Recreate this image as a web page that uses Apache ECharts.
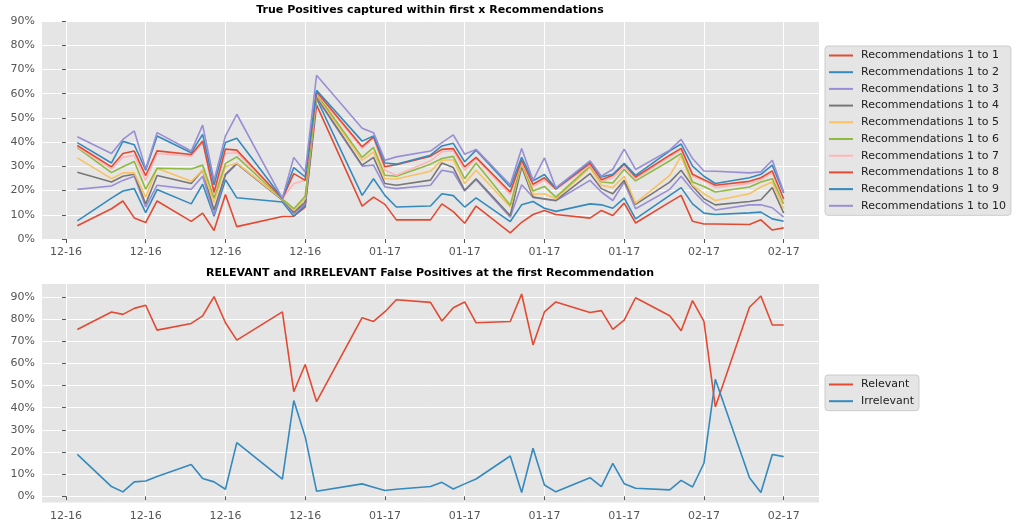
<!DOCTYPE html>
<html>
<head>
<meta charset="utf-8">
<script src="https://cdn.jsdelivr.net/npm/echarts@6/dist/echarts.min.js"></script>
<style>
  html, body { margin: 0; padding: 0; background: #ffffff; }
  #main { width: 1019px; height: 527px; }
</style>
</head>
<body>
<div id="main"></div>
<script>
// day offsets (weekly ticks at 0, 7, 14 ...)
var days = [1, 4, 5, 6, 7, 8, 11, 12, 13, 14, 15, 19, 20, 21, 22, 26, 27, 28, 29,
  32, 33, 34, 35, 36, 39, 40, 41, 42, 43, 46, 47, 48, 49, 50, 53, 54, 55, 56, 57,
  60, 61, 62, 63];
var tickDays = [0, 7, 14, 21, 28, 35, 42, 49, 56, 63];
var tickLabels = ["12-16", "12-16", "12-16", "12-16", "01-17", "01-17", "01-17", "01-17", "02-17", "02-17"];
var pctTicks = [0, 10, 20, 30, 40, 50, 60, 70, 80, 90];

// true positives within first x recommendations (%)
var rec1 = [5.5, 12.5, 15.7, 8.7, 6.8, 15.7, 7.3, 10.7, 3.5, 18.4, 5.1, 9.3, 9.4, 13.2, 55.4, 13.6, 17.3, 14.3, 7.9,
  7.9, 14.5, 11.3, 6.5, 13.6, 2.5, 6.9, 10.1, 11.8, 10.1, 8.6, 11.8, 9.7, 14.8, 6.6, 15.2, 18.0, 7.3, 6.2, 6.2,
  6.0, 7.9, 3.7, 4.6];
var rec2 = [7.5, 16.9, 19.8, 20.8, 10.9, 20.4, 14.5, 22.6, 9.4, 24.5, 17.0, 15.3, 9.4, 14.0, 58.0, 18.0, 24.9, 18.0, 13.2,
  13.6, 18.7, 17.9, 13.2, 17.0, 7.2, 14.1, 15.5, 12.7, 11.4, 14.5, 14.1, 12.7, 16.9, 8.3, 18.0, 21.2, 14.5, 10.7, 10.1,
  10.8, 11.1, 8.3, 7.3];
var rec3 = [20.5, 21.9, 24.2, 25.9, 13.2, 22.2, 20.5, 25.9, 10.1, 26.3, 31.0, 16.0, 10.4, 14.5, 58.2, 30.1, 30.5, 21.5, 20.8,
  22.2, 28.4, 27.5, 19.8, 24.5, 9.0, 22.4, 17.2, 16.4, 15.8, 24.2, 19.4, 15.9, 23.5, 12.5, 20.5, 25.9, 20.1, 15.2, 12.0,
  14.1, 14.1, 12.9, 9.0];
var rec4 = [27.6, 23.5, 25.9, 26.7, 14.5, 26.2, 22.9, 28.4, 12.0, 26.7, 31.2, 16.2, 11.1, 15.2, 58.5, 30.5, 33.7, 22.9, 22.2,
  24.3, 31.4, 29.5, 20.1, 24.9, 9.7, 29.8, 17.3, 16.6, 15.9, 27.0, 20.8, 18.7, 24.2, 14.3, 23.5, 28.4, 21.8, 16.6, 14.1,
  15.5, 16.2, 21.2, 10.7];
var rec5 = [33.5, 24.9, 27.3, 27.3, 17.3, 29.2, 23.8, 28.4, 15.2, 29.8, 31.3, 16.4, 11.8, 16.6, 59.5, 32.5, 36.0, 24.9, 24.8,
  28.0, 32.5, 32.7, 22.9, 28.4, 13.2, 31.2, 18.4, 18.7, 16.6, 29.5, 22.2, 21.2, 25.9, 14.8, 26.3, 34.2, 22.2, 18.7, 15.9,
  18.7, 21.5, 23.5, 12.5];
var rec6 = [37.7, 27.4, 29.8, 32.0, 20.6, 29.2, 28.9, 30.5, 16.9, 31.2, 33.9, 16.5, 12.5, 17.6, 60.0, 33.7, 37.8, 26.3, 25.9,
  30.9, 33.2, 34.1, 24.9, 31.4, 13.9, 31.9, 19.8, 21.7, 17.3, 30.1, 23.5, 23.1, 28.7, 24.0, 32.3, 35.3, 23.5, 21.7, 19.4,
  21.5, 23.5, 24.9, 14.5];
var rec7 = [38.1, 29.0, 33.7, 34.6, 24.2, 35.3, 34.2, 39.8, 18.4, 35.3, 35.6, 16.6, 22.9, 24.2, 60.3, 37.4, 41.6, 28.4, 26.3,
  32.3, 36.0, 36.4, 28.4, 33.2, 18.4, 31.9, 21.7, 24.2, 20.4, 30.5, 24.0, 25.3, 29.8, 24.9, 33.9, 36.7, 25.9, 24.0, 21.2,
  22.9, 24.5, 27.3, 15.9];
var rec8 = [38.6, 29.8, 35.3, 36.3, 26.2, 36.4, 34.9, 40.4, 19.3, 37.1, 36.7, 16.6, 27.0, 24.2, 60.8, 38.1, 42.2, 29.8, 30.7,
  34.2, 37.0, 37.3, 29.8, 33.7, 19.4, 32.5, 22.6, 25.3, 20.7, 31.2, 24.5, 26.3, 30.9, 25.6, 34.6, 37.4, 26.7, 24.5, 22.2,
  23.8, 25.3, 28.1, 16.6];
var rec9 = [39.8, 31.4, 40.3, 38.9, 28.4, 42.5, 35.6, 43.2, 22.4, 39.8, 41.6, 16.7, 29.5, 25.6, 61.4, 40.4, 42.5, 31.4, 30.9,
  34.6, 38.4, 39.5, 31.9, 36.7, 21.5, 33.7, 24.0, 26.6, 20.8, 31.9, 25.6, 26.7, 31.2, 26.3, 36.4, 39.2, 30.1, 25.9, 22.9,
  25.3, 26.7, 30.5, 19.0];
var rec10 = [42.2, 35.3, 41.1, 44.6, 28.9, 43.9, 36.3, 47.0, 24.2, 42.5, 51.5, 16.8, 33.7, 27.7, 67.6, 45.7, 43.9, 32.5, 33.9,
  36.3, 39.8, 43.0, 35.0, 37.0, 22.4, 37.4, 24.2, 33.5, 21.1, 32.3, 25.9, 28.8, 37.1, 28.7, 36.7, 41.1, 33.2, 28.1, 28.0,
  27.3, 27.7, 32.5, 19.4];

// false positives at the first recommendation (%)
var relevant = [75.3, 83.2, 82.1, 84.8, 86.2, 75.0, 78.0, 81.4, 90.1, 78.3, 70.5, 83.2, 47.2, 59.5, 42.7, 80.6, 78.9, 83.3, 88.7,
  87.5, 79.1, 85.1, 87.7, 78.3, 78.9, 91.3, 68.3, 83.2, 87.7, 82.9, 83.8, 75.3, 79.5, 89.6, 81.5, 74.7, 88.3, 78.9, 40.3,
  85.3, 90.4, 77.3, 77.3];
var irrelevant = [18.9, 4.4, 2.0, 6.5, 6.9, 8.9, 14.4, 8.0, 6.5, 3.2, 24.2, 7.7, 43.2, 26.9, 2.3, 5.6, 4.1, 2.6, 3.2,
  4.4, 6.3, 3.3, 5.6, 7.8, 18.2, 1.7, 21.7, 5.1, 2.0, 8.4, 4.4, 14.9, 5.7, 3.6, 2.9, 7.2, 4.2, 14.9, 52.8,
  8.4, 1.7, 18.9, 17.9];

var topNames = [];
for (var k = 1; k <= 10; k++) topNames.push("Recommendations 1 to " + k);
var topValues = [rec1, rec2, rec3, rec4, rec5, rec6, rec7, rec8, rec9, rec10];
var topColors = ["#E24A33", "#348ABD", "#988ED5", "#777777", "#FBC15E", "#8EBA42", "#FFB5B8", "#E24A33", "#348ABD", "#988ED5"];

var font = "DejaVu Sans";

function pairs(vals) {
  return days.map(function(d, i) { return [d, vals[i]]; });
}

function xAxis(gridIndex) {
  return {
    type: "value",
    gridIndex: gridIndex,
    min: -2.1,
    max: 66.1,
    axisLine: { show: false },
    axisTick: { show: true, length: 4, customValues: tickDays, lineStyle: { color: "#555555", width: 1 } },
    axisLabel: {
      customValues: tickDays,
      margin: 8,
      color: "#555555",
      fontSize: 11,
      fontFamily: font,
      formatter: function(v) { return tickLabels[tickDays.indexOf(v)]; }
    },
    splitLine: { show: true, lineStyle: { color: "#ffffff", width: 1 } }
  };
}

function yAxis(gridIndex, min, max) {
  return {
    type: "value",
    gridIndex: gridIndex,
    min: min,
    max: max,
    axisLine: { show: false },
    axisTick: { show: true, length: 4, customValues: pctTicks, lineStyle: { color: "#555555", width: 1 } },
    axisLabel: {
      customValues: pctTicks,
      margin: 7,
      color: "#555555",
      fontSize: 11,
      fontFamily: font,
      formatter: function(v) { return v + "%"; }
    },
    splitLine: { show: true, lineStyle: { color: "#ffffff", width: 1 } }
  };
}

function legend(names, top) {
  return {
    data: names,
    orient: "vertical",
    left: 825,
    top: top,
    icon: "rect",
    itemWidth: 24,
    itemHeight: 2,
    itemGap: 2.7,
    padding: [2.5, 5, 2.5, 4],
    backgroundColor: "#e5e5e5",
    borderColor: "#cccccc",
    borderWidth: 1,
    borderRadius: 3,
    selectedMode: false,
    textStyle: { color: "#222222", fontSize: 11, fontFamily: font, lineHeight: 14, padding: [0, 0, 0, 3] }
  };
}

var series = [];
topValues.forEach(function(vals, i) {
  series.push({
    name: topNames[i],
    type: "line",
    xAxisIndex: 0,
    yAxisIndex: 0,
    data: pairs(vals),
    symbol: "none",
    color: topColors[i],
    lineStyle: { width: 1.6, color: topColors[i] }
  });
});
series.push({
  name: "Relevant", type: "line", xAxisIndex: 1, yAxisIndex: 1, data: pairs(relevant),
  symbol: "none", color: "#E24A33", lineStyle: { width: 1.6, color: "#E24A33" }
});
series.push({
  name: "Irrelevant", type: "line", xAxisIndex: 1, yAxisIndex: 1, data: pairs(irrelevant),
  symbol: "none", color: "#348ABD", lineStyle: { width: 1.6, color: "#348ABD" }
});

var myChart = echarts.init(document.getElementById("main"), null, { renderer: "canvas" });
var option = {
  animation: false,
  backgroundColor: "#ffffff",
  title: [
    {
      text: "True Positives captured within first x Recommendations",
      left: 430, top: 5, textAlign: "center", padding: 0,
      textStyle: { fontSize: 11, fontWeight: "bold", color: "#000000", fontFamily: font }
    },
    {
      text: "RELEVANT and IRRELEVANT False Positives at the first Recommendation",
      left: 430, top: 268, textAlign: "center", padding: 0,
      textStyle: { fontSize: 11, fontWeight: "bold", color: "#000000", fontFamily: font }
    }
  ],
  legend: [legend(topNames, 46), legend(["Relevant", "Irrelevant"], 375)],
  grid: [
    { left: 42, top: 21, width: 777, height: 218, show: true, backgroundColor: "#e5e5e5", borderWidth: 0, outerBoundsMode: "none" },
    { left: 42, top: 284, width: 777, height: 218.5, show: true, backgroundColor: "#e5e5e5", borderWidth: 0, outerBoundsMode: "none" }
  ],
  xAxis: [xAxis(0), xAxis(1)],
  yAxis: [yAxis(0, 0, 90), yAxis(1, -2.8, 95.8)],
  series: series
};
myChart.setOption(option);
</script>
</body>
</html>
